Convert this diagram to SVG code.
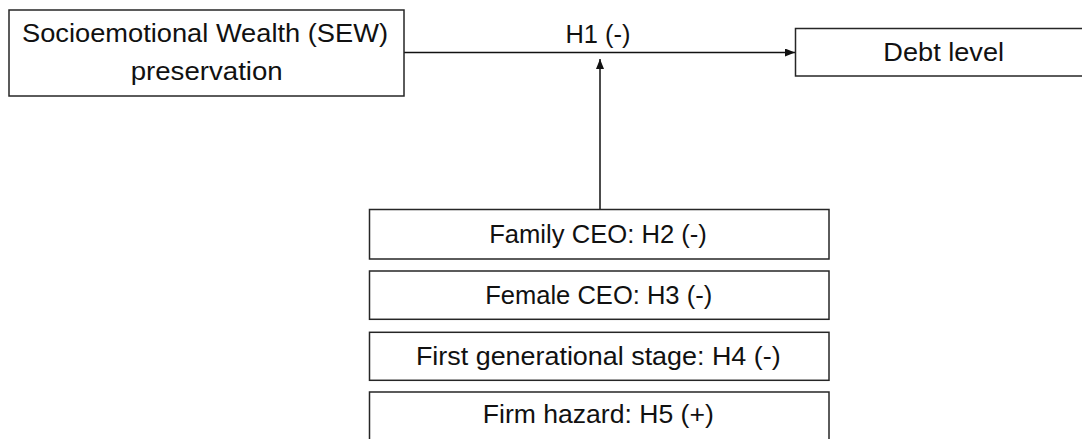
<svg xmlns="http://www.w3.org/2000/svg" width="1082" height="439" viewBox="0 0 1082 439">
  <style>
    .box { fill: #ffffff; stroke: #262626; stroke-width: 1.5; }
    .lbl { font-family: "Liberation Sans", Arial, sans-serif; font-size: 25px; fill: #111111; text-anchor: middle; }
    .conn { stroke: #111111; stroke-width: 1.5; fill: none; }
  </style>
  <defs>
    <marker id="arrow" viewBox="0 0 10 8" refX="10" refY="4" markerWidth="10" markerHeight="8" markerUnits="userSpaceOnUse" orient="auto">
      <path d="M0,0 L10,4 L0,8 Z" fill="#111111"/>
    </marker>
  </defs>
  <rect x="0" y="0" width="1082" height="439" fill="#ffffff"/>

  <g id="connectors">
    <line class="conn" x1="404" y1="52.5" x2="795" y2="52.5" marker-end="url(#arrow)"/>
    <line class="conn" x1="600" y1="209" x2="600" y2="59" marker-end="url(#arrow)"/>
    <text class="lbl" x="598" y="42.5" textLength="65" lengthAdjust="spacingAndGlyphs">H1 (-)</text>
  </g>

  <g id="sew">
    <rect class="box" x="9" y="10" width="395" height="86"/>
    <text class="lbl" x="205" y="41.5" textLength="366" lengthAdjust="spacingAndGlyphs">Socioemotional Wealth (SEW)</text>
    <text class="lbl" x="206.7" y="79.5" textLength="152" lengthAdjust="spacingAndGlyphs">preservation</text>
  </g>

  <g id="debt">
    <rect class="box" x="795.5" y="28.5" width="300" height="47.5"/>
    <text class="lbl" x="943.7" y="61" textLength="120.7" lengthAdjust="spacingAndGlyphs">Debt level</text>
  </g>

  <g id="family-ceo">
    <rect class="box" x="369.5" y="209.5" width="459.5" height="49.5"/>
    <text class="lbl" x="598" y="242.7" textLength="217.7" lengthAdjust="spacingAndGlyphs">Family CEO: H2 (-)</text>
  </g>

  <g id="female-ceo">
    <rect class="box" x="369.5" y="271" width="459.5" height="48.3"/>
    <text class="lbl" x="598.7" y="303.5" textLength="227" lengthAdjust="spacingAndGlyphs">Female CEO: H3 (-)</text>
  </g>

  <g id="first-generational-stage">
    <rect class="box" x="369.5" y="332.3" width="459.5" height="48"/>
    <text class="lbl" x="598.3" y="364.5" textLength="364.7" lengthAdjust="spacingAndGlyphs">First generational stage: H4 (-)</text>
  </g>

  <g id="firm-hazard">
    <rect class="box" x="369.5" y="392" width="459.5" height="60"/>
    <text class="lbl" x="598.3" y="422.7" textLength="231" lengthAdjust="spacingAndGlyphs">Firm hazard: H5 (+)</text>
  </g>
</svg>
